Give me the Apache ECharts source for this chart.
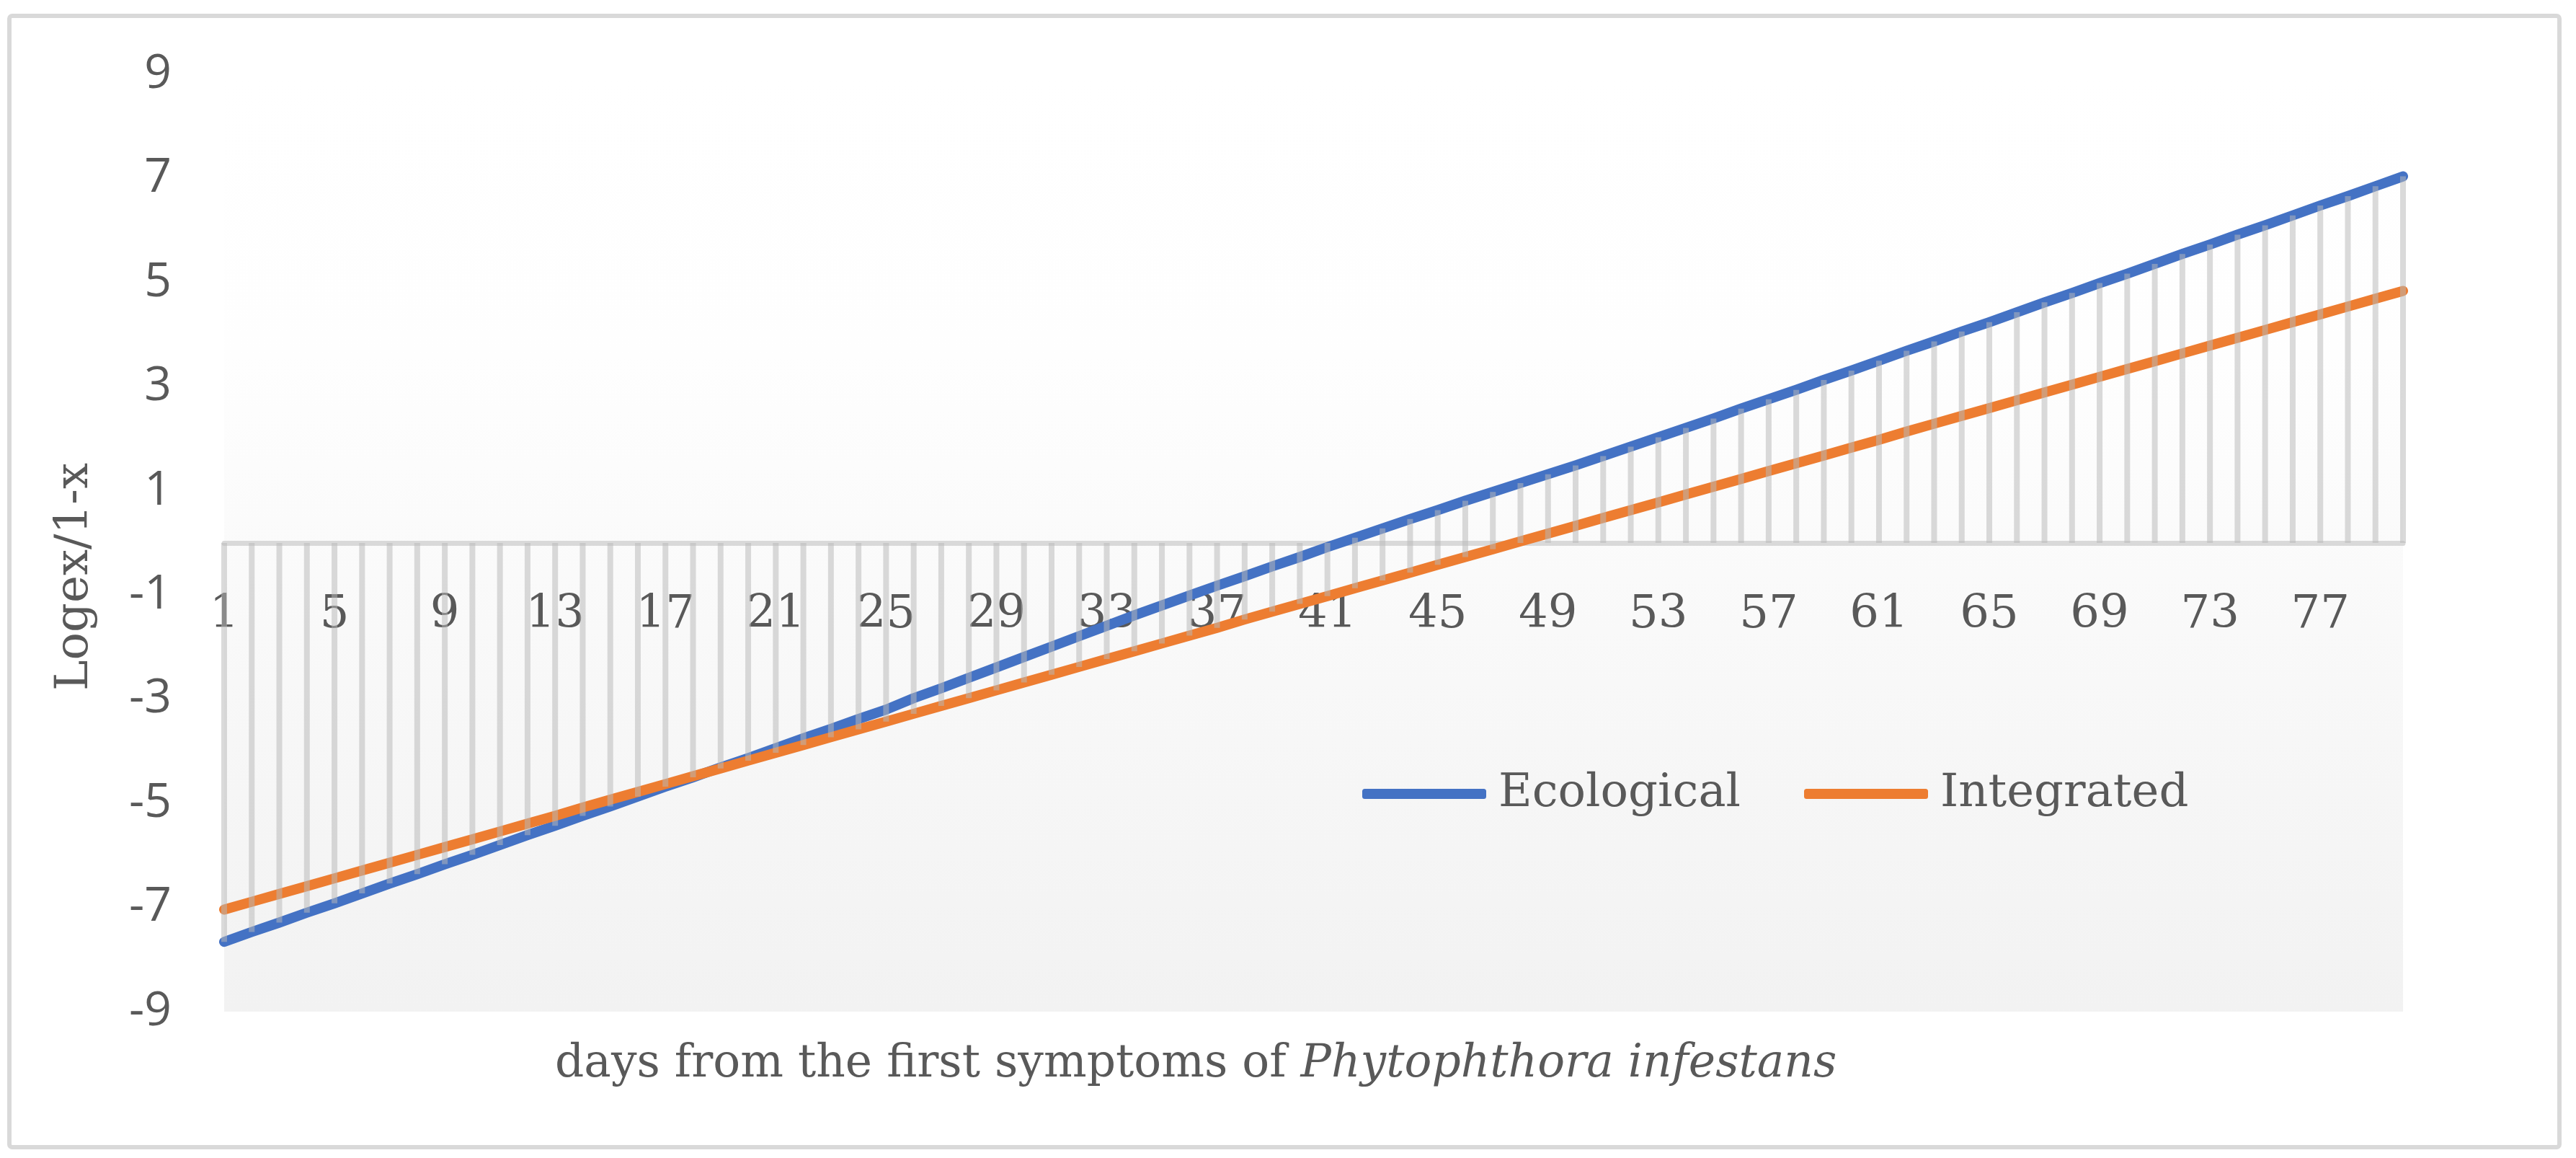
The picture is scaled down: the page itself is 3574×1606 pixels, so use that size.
<!DOCTYPE html>
<html>
<head>
<meta charset="utf-8">
<script src="https://cdn.jsdelivr.net/npm/echarts@6/dist/echarts.min.js"></script>
<style>
html,body{margin:0;padding:0;background:#fff;}
#chart{width:3574px;height:1606px;}
</style>
</head>
<body>
<div id="chart"></div>
<script>
// ---- data ----
var days = [];
for (var d = 1; d <= 80; d++) days.push(String(d));

var ecological = [
  -7.66,-7.47,-7.29,-7.10,-6.92,-6.73,-6.54,-6.36,-6.17,-5.99,
  -5.80,-5.61,-5.43,-5.24,-5.06,-4.87,-4.68,-4.50,-4.31,-4.13,
  -3.94,-3.75,-3.57,-3.38,-3.20,-2.98,-2.79,-2.59,-2.39,-2.19,
  -1.99,-1.79,-1.59,-1.39,-1.20,-1.01,-0.82,-0.64,-0.45,-0.27,
  -0.08,0.10,0.28,0.46,0.63,0.81,0.98,1.15,1.32,1.49,
  1.67,1.85,2.03,2.21,2.39,2.58,2.76,2.94,3.13,3.31,
  3.50,3.69,3.87,4.06,4.24,4.43,4.62,4.80,4.99,5.17,
  5.36,5.55,5.73,5.92,6.10,6.29,6.48,6.66,6.85,7.04
];
var integrated = [
  -7.04,-6.89,-6.74,-6.59,-6.44,-6.29,-6.14,-5.99,-5.84,-5.69,
  -5.54,-5.39,-5.24,-5.08,-4.93,-4.78,-4.63,-4.48,-4.33,-4.18,
  -4.03,-3.88,-3.73,-3.58,-3.43,-3.28,-3.13,-2.98,-2.83,-2.68,
  -2.53,-2.38,-2.23,-2.08,-1.93,-1.78,-1.63,-1.47,-1.32,-1.17,
  -1.02,-0.87,-0.72,-0.57,-0.42,-0.27,-0.12,0.03,0.18,0.33,
  0.48,0.63,0.78,0.93,1.08,1.23,1.38,1.53,1.68,1.83,
  1.98,2.14,2.29,2.44,2.59,2.74,2.89,3.04,3.19,3.34,
  3.49,3.64,3.79,3.94,4.09,4.24,4.39,4.54,4.69,4.84
];
var seriesNames = ['Ecological', 'Integrated'];
var yTicks = { min: -9, max: 9, step: 2 };

// drop lines span from the axis (0) to the farthest value of both series
var dropData = days.map(function (c, i) {
  var a = ecological[i], b = integrated[i];
  return [i, Math.min(0, a, b), Math.max(0, a, b)];
});

var chart = echarts.init(document.getElementById('chart'), null, { renderer: 'canvas' });

var serif = '"DejaVu Serif", "Liberation Serif", serif';
var sans = '"Open Sans", "DejaVu Sans", sans-serif';
var txt = '#595959';
var gridBox = { left: 311, right: 240, top: 103, bottom: 203 };

chart.setOption({
  animation: false,
  backgroundColor: '#ffffff',
  grid: {
    left: gridBox.left, right: gridBox.right, top: gridBox.top, bottom: gridBox.bottom,
    show: true, borderWidth: 0,
    backgroundColor: new echarts.graphic.LinearGradient(0, 0, 0, 1, [
      { offset: 0, color: '#ffffff' },
      { offset: 0.3, color: '#fefefe' },
      { offset: 1, color: '#f2f2f2' }
    ])
  },
  title: {
    text: '{n|days from the first symptoms of }{i|Phytophthora infestans}',
    left: 765, top: 1440,
    textStyle: {
      fontWeight: 'normal',
      rich: {
        n: { fontFamily: serif, fontSize: 63, color: txt, fontWeight: 'normal' },
        i: { fontFamily: serif, fontSize: 63, color: txt, fontWeight: 'normal', fontStyle: 'italic' }
      }
    }
  },
  legend: {
    data: seriesNames,
    left: 1885, top: 1064,
    icon: 'roundRect',
    itemWidth: 172, itemHeight: 14,
    itemGap: 88,
    textStyle: { fontFamily: serif, fontSize: 64, color: txt, padding: [0, 0, 0, 12] }
  },
  xAxis: {
    type: 'category',
    data: days,
    boundaryGap: false,
    axisLine: { onZero: false, lineStyle: { color: '#d9d9d9', width: 7 } },
    axisTick: { show: false },
    splitLine: { show: false },
    axisLabel: {
      interval: 3, margin: 68,
      fontFamily: serif, fontSize: 64, color: txt, lineHeight: 64
    }
  },
  yAxis: {
    type: 'value',
    min: yTicks.min, max: yTicks.max, interval: yTicks.step,
    axisLine: { show: false },
    axisTick: { show: false },
    splitLine: { show: false },
    axisLabel: { margin: 73, fontFamily: sans, fontSize: 66, color: txt }
  },
  graphic: [
    {
      type: 'rect', z: -10, silent: true,
      shape: { x: 13, y: 22, width: 3538, height: 1569, r: 4 },
      style: { fill: 'none', stroke: '#d9d9d9', lineWidth: 6 }
    },
    {
      type: 'text', silent: true,
      x: 104, y: 800, rotation: Math.PI / 2,
      style: {
        text: 'Logex/1-x', fontFamily: serif, fontSize: 64, fill: txt,
        align: 'center', verticalAlign: 'middle'
      }
    }
  ],
  series: [
    {
      name: seriesNames[0], type: 'line', data: ecological,
      symbol: 'none', z: 2,
      itemStyle: { color: '#4472c4' },
      lineStyle: { color: '#4472c4', width: 14, cap: 'round', join: 'round' }
    },
    {
      name: seriesNames[1], type: 'line', data: integrated,
      symbol: 'none', z: 2,
      itemStyle: { color: '#ed7d31' },
      lineStyle: { color: '#ed7d31', width: 14, cap: 'round', join: 'round' }
    },
    {
      name: 'drop', type: 'custom', z: 4, silent: true,
      data: dropData,
      encode: { x: 0, y: [1, 2] },
      renderItem: function (params, api) {
        var p1 = api.coord([api.value(0), api.value(1)]);
        var p2 = api.coord([api.value(0), api.value(2)]);
        return {
          type: 'line',
          shape: { x1: p1[0], y1: p1[1], x2: p2[0], y2: p2[1] },
          style: { stroke: 'rgba(185,185,185,0.52)', lineWidth: 8 }
        };
      }
    }
  ]
});

// place the category axis (line + labels) where the value scale has 0
var zeroY = chart.convertToPixel({ yAxisIndex: 0 }, 0);
var bottomY = 1606 - gridBox.bottom;
chart.setOption({ xAxis: { offset: zeroY - bottomY } });
</script>
</body>
</html>
